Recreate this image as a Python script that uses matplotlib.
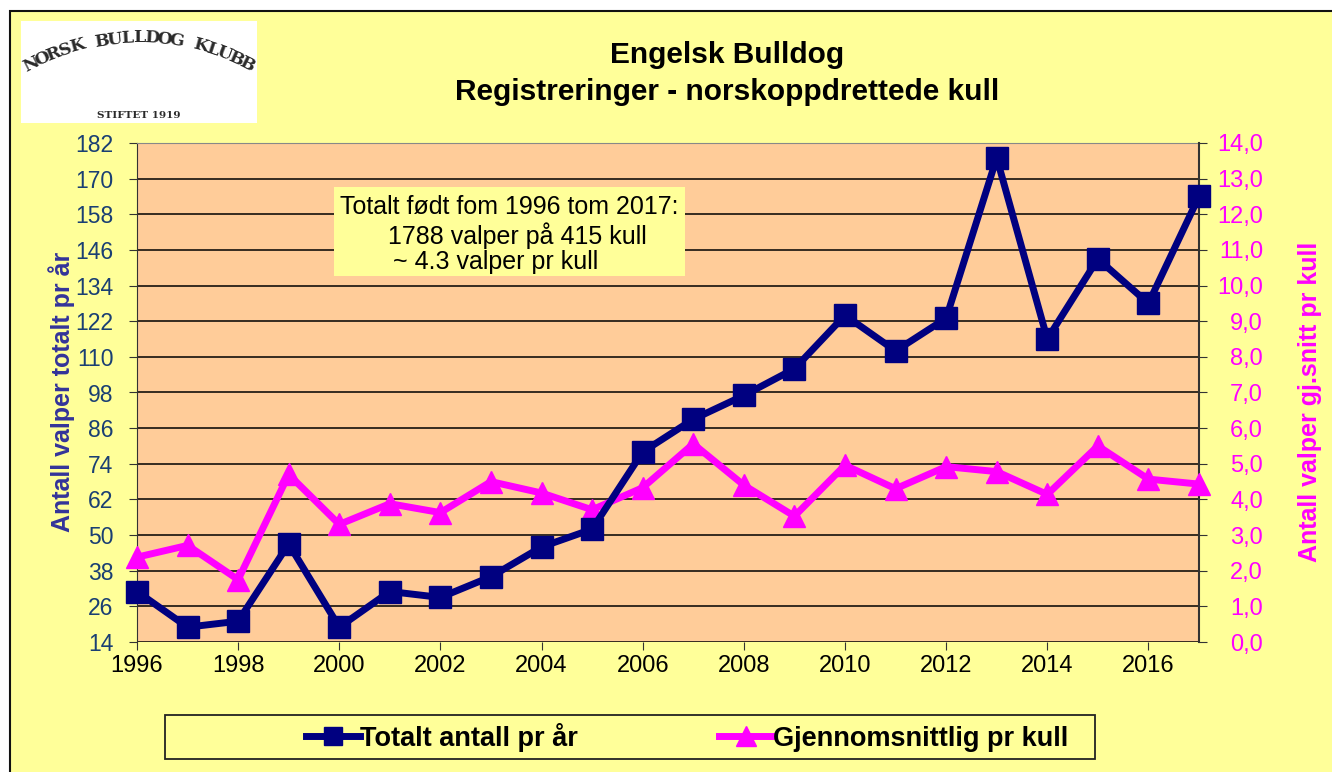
import numpy as np
import matplotlib.pyplot as plt
from matplotlib.patches import Rectangle
from matplotlib.lines import Line2D
from matplotlib.ticker import FuncFormatter

plt.rcParams['font.family'] = ['Liberation Sans', 'DejaVu Sans']

years = list(range(1996, 2018))
totalt = [31, 19, 21, 47, 19, 31, 29, 36, 46, 52, 78, 89, 97, 106, 124, 112, 123, 177, 116, 143, 128, 164]
snitt = [2.38, 2.71, 1.75, 4.7, 3.3, 3.88, 3.63, 4.5, 4.18, 3.71, 4.33, 5.56, 4.4, 3.53,
         4.96, 4.3, 4.92, 4.78, 4.14, 5.5, 4.57, 4.43]

left_ticks = list(range(14, 183, 12))
right_ticks = [i * 1.0 for i in range(0, 15)]
x_ticks = list(range(1996, 2017, 2))

navy = "#000080"
magenta = "#FF00FF"
tick_blue = "#1a3f73"

W, H = 1332, 772
fig = plt.figure(figsize=(W / 100, H / 100), dpi=100)
fig.patch.set_facecolor("white")

# yellow chart area with black frame on top/left
fig.patches.append(Rectangle((10 / W, -0.01), 1.01, 1.01 - 11 / H, transform=fig.transFigure,
                             facecolor="#FFFF99", edgecolor="#111111", linewidth=1.5, zorder=-10))

# logo (text only, arched)
fig.patches.append(Rectangle((21 / W, 1 - 123 / H), 236 / W, 102 / H,
                             transform=fig.transFigure, facecolor="white", edgecolor="none", zorder=1))
logo = "NORSK BULLDOG KLUBB"
R, cy = 238, 276
angles = np.linspace(117, 63, len(logo))
for ch, a in zip(logo, angles):
    r = np.deg2rad(a)
    fig.text((139 + R * np.cos(r)) / W, 1 - (cy - R * np.sin(r)) / H, ch,
             ha="center", va="center", rotation=a - 90, fontsize=12.5, fontweight="bold",
             family="DejaVu Serif", color="#2a2a2a")
fig.text(139 / W, 1 - 116 / H, "STIFTET 1919", ha="center", va="center",
         fontsize=7.5, fontweight="bold", family="DejaVu Serif", color="#2a2a2a")

ax = fig.add_axes([137 / W, 1 - 642 / H, 1062 / W, 499 / H])
ax.set_facecolor("#FFCC99")
ax.set_xlim(1996, 2017)
ax.set_ylim(14, 182)
ax.set_yticks(left_ticks)
ax.set_xticks(x_ticks)
ax.grid(axis="y", color="black", linewidth=1.1)
ax.set_axisbelow(True)
ax.tick_params(axis="y", direction="out", length=6, colors="#333333", labelcolor=tick_blue,
               labelsize=16.5, pad=11)
ax.tick_params(axis="x", direction="out", length=6, colors="#333333", labelcolor="black",
               labelsize=17, pad=3)
ax.spines["left"].set_color("#333333")
ax.spines["top"].set_color("#888888")
ax.spines["right"].set_visible(False)
ax.spines["bottom"].set_visible(False)

ax2 = ax.twinx()
ax2.set_ylim(0, 14)
ax2.set_yticks(right_ticks)
ax2.yaxis.set_major_formatter(FuncFormatter(lambda v, p: f"{v:.1f}".replace(".", ",")))
ax2.tick_params(axis="y", direction="out", length=6, colors="#333333", labelcolor=magenta,
                labelsize=17, pad=40)
for lab in ax2.get_yticklabels():
    lab.set_horizontalalignment("right")
for s in ["left", "top", "bottom"]:
    ax2.spines[s].set_visible(False)
ax2.spines["right"].set_color("#333333")
ax2.spines["right"].set_linewidth(1.5)

ax2.plot(years, snitt, color=magenta, linewidth=5, marker="^", markersize=16,
         clip_on=False, zorder=3)
ax2.plot(years, [(v - 14) / 12.0 for v in totalt], color=navy, linewidth=5,
         marker="s", markersize=15.5, clip_on=False, zorder=4)

fig.text(62 / W, 1 - 392 / H, "Antall valper totalt pr år", rotation=90, ha="center",
         va="center", color="#333399", fontsize=18, fontweight="bold")
fig.text(1310 / W, 1 - 402 / H, "Antall valper gj.snitt pr kull", rotation=90, ha="center",
         va="center", color=magenta, fontsize=18, fontweight="bold")

fig.text(727 / W, 1 - 55 / H, "Engelsk Bulldog", ha="center", va="center",
         fontsize=21.5, fontweight="bold")
fig.text(727 / W, 1 - 92 / H, "Registreringer - norskoppdrettede kull", ha="center",
         va="center", fontsize=21.5, fontweight="bold")

# annotation box
fig.patches.append(Rectangle((334 / W, 1 - 276 / H), 351 / W, 89 / H,
                             transform=fig.transFigure, facecolor="#FFFF99", edgecolor="none",
                             zorder=5))
note_lines = ["Totalt født fom 1996 tom 2017:", "1788 valper på 415 kull", "~ 4.3 valper pr kull"]
note_x = [340, 388, 393]
note_y = [207, 236, 262]
for t, nx, ny in zip(note_lines, note_x, note_y):
    fig.text(nx / W, 1 - ny / H, t, ha="left", va="center", fontsize=18, zorder=6)

# legend: frame drawn separately, entries placed like the original
fig.patches.append(Rectangle((165 / W, 1 - 759 / H), 930 / W, 44 / H,
                             transform=fig.transFigure, facecolor="#FFFF99", edgecolor="#222222",
                             linewidth=1.3, zorder=2))
h_tot = Line2D([], [], color=navy, linewidth=5, marker="s", markersize=13)
h_snitt = Line2D([], [], color=magenta, linewidth=5, marker="^", markersize=14)
leg = fig.legend([h_tot, h_snitt], ["Totalt antall pr år", "Gjennomsnittlig pr kull"],
                 loc="center", bbox_to_anchor=(687 / W, 1 - 737 / H), ncol=2,
                 frameon=False, handlelength=2.0, handletextpad=0.0, columnspacing=5.2,
                 borderpad=0.2, prop={"weight": "bold", "size": 19.5})
leg.set_zorder(3)

fig.savefig("out.png", dpi=100)
